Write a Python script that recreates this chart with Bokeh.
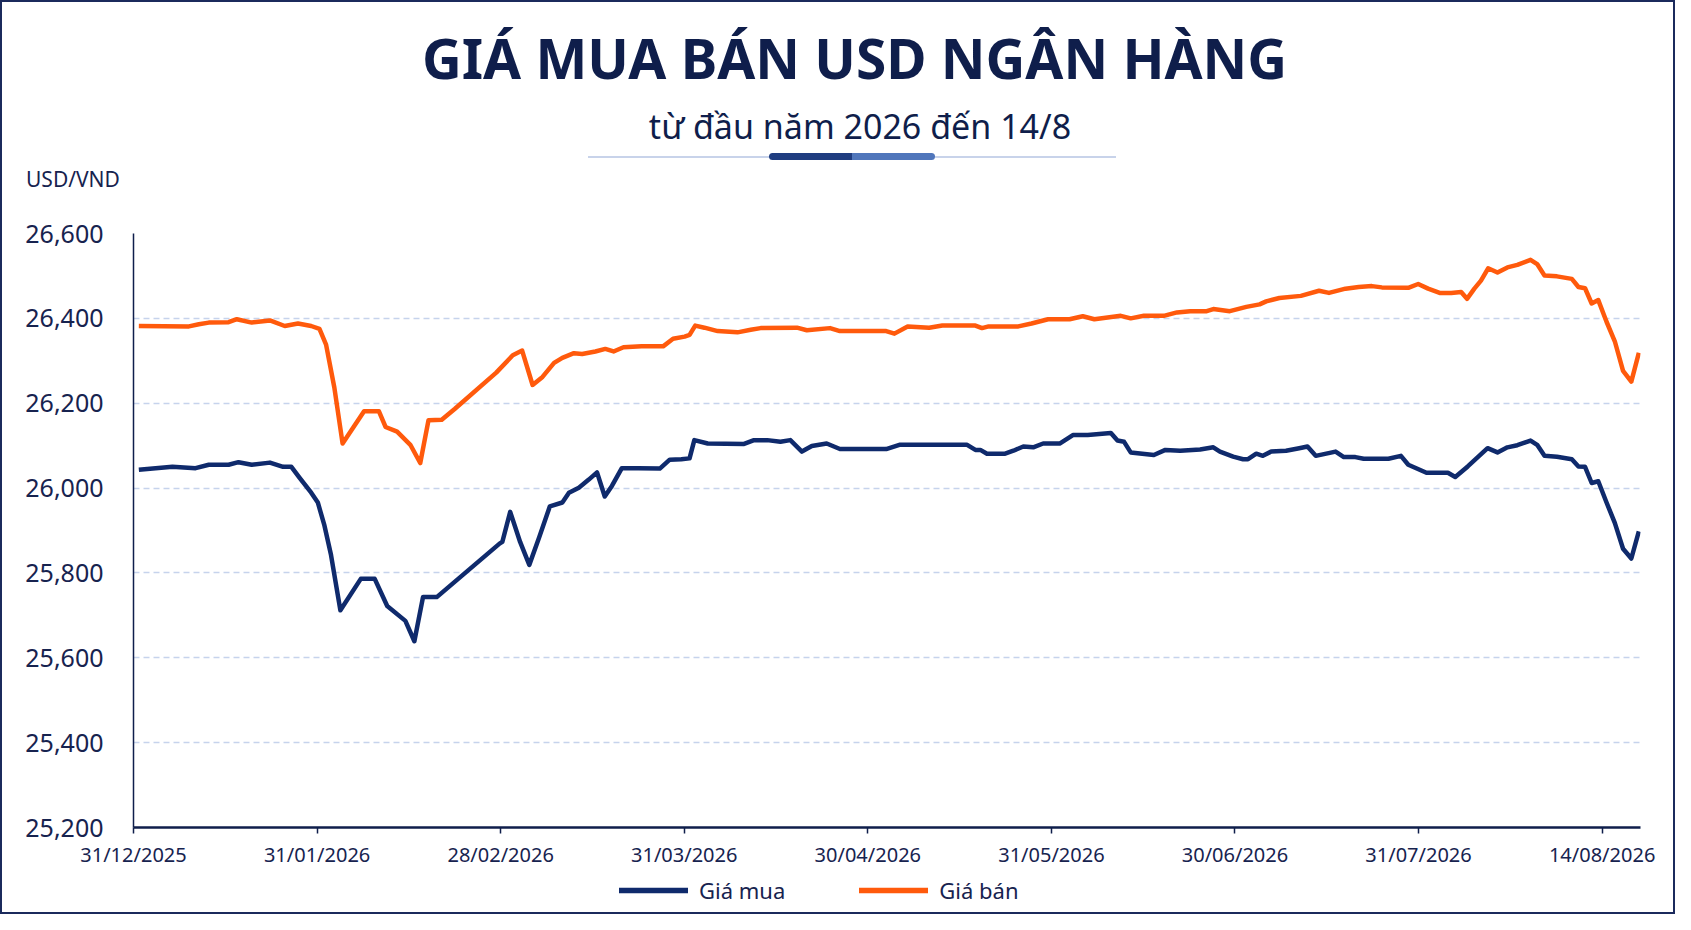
from bokeh.plotting import figure
from bokeh.layouts import column
from bokeh.models import (Range1d, FixedTicker, NumeralTickFormatter, Legend, LegendItem, Div)
from bokeh.embed import file_html
from bokeh.resources import INLINE

# ---------------- data ----------------
title_text = "GIÁ MUA BÁN USD NGÂN HÀNG"
subtitle_text = "từ đầu năm 2026 đến 14/8"
unit_text = "USD/VND"
series_names = ["Giá mua", "Giá bán"]

tick_positions = [0, 1, 2, 3, 4, 5, 6, 7, 8]
tick_labels = ["31/12/2025", "31/01/2026", "28/02/2026", "31/03/2026", "30/04/2026",
               "31/05/2026", "30/06/2026", "31/07/2026", "14/08/2026"]
y_ticks = [25200, 25400, 25600, 25800, 26000, 26200, 26400, 26600]

buy_pos = [0.029, 0.212, 0.338, 0.410, 0.518, 0.572, 0.644, 0.743, 0.815, 0.860,
           0.905, 0.968, 1.004, 1.040, 1.076, 1.127, 1.238, 1.314, 1.382, 1.481,
           1.530, 1.577, 1.652, 1.994, 2.009, 2.052, 2.106, 2.156, 2.210, 2.268,
           2.336, 2.372, 2.426, 2.480, 2.525, 2.567, 2.606, 2.660, 2.750, 2.867,
           2.921, 2.984, 3.029, 3.055, 3.128, 3.326, 3.380, 3.452, 3.524, 3.578,
           3.641, 3.695, 3.776, 3.848, 4.100, 4.172, 4.541, 4.586, 4.613, 4.649,
           4.748, 4.793, 4.847, 4.901, 4.955, 5.045, 5.117, 5.198, 5.324, 5.360,
           5.396, 5.432, 5.558, 5.621, 5.702, 5.810, 5.882, 5.918, 5.990, 6.044,
           6.071, 6.116, 6.152, 6.197, 6.278, 6.350, 6.395, 6.440, 6.548, 6.593,
           6.656, 6.701, 6.836, 6.904, 6.944, 7.043, 7.160, 7.200, 7.268, 7.376,
           7.430, 7.484, 7.538, 7.610, 7.646, 7.686, 7.754, 7.835, 7.871, 7.907,
           7.943, 7.979, 8.024, 8.069, 8.114, 8.159, 8.200]
buy_price = [26043, 26050, 26047, 26055, 26055, 26061, 26055, 26060, 26050, 26050,
             26024, 25989, 25966, 25912, 25842, 25712, 25786, 25786, 25722, 25687,
             25639, 25743, 25743, 25869, 25873, 25944, 25873, 25819, 25884, 25957,
             25966, 25989, 26001, 26020, 26037, 25980, 26005, 26047, 26047, 26046,
             26067, 26068, 26070, 26113, 26105, 26104, 26113, 26113, 26109, 26113,
             26086, 26099, 26105, 26092, 26092, 26102, 26102, 26090, 26090, 26081,
             26081, 26088, 26098, 26096, 26105, 26105, 26125, 26125, 26130, 26112,
             26109, 26084, 26078, 26090, 26088, 26091, 26096, 26086, 26074, 26068,
             26068, 26081, 26076, 26086, 26088, 26094, 26098, 26076, 26086, 26073,
             26073, 26069, 26069, 26076, 26055, 26036, 26036, 26026, 26051, 26094,
             26084, 26096, 26101, 26112, 26102, 26076, 26074, 26068, 26051, 26050,
             26012, 26016, 25966, 25918, 25857, 25834, 25898]

sell_pos = [0.029, 0.302, 0.356, 0.410, 0.518, 0.563, 0.644, 0.743, 0.824, 0.896,
            0.968, 1.013, 1.049, 1.094, 1.139, 1.256, 1.337, 1.373, 1.436, 1.508,
            1.562, 1.607, 1.679, 1.751, 1.976, 2.066, 2.117, 2.174, 2.228, 2.291,
            2.336, 2.399, 2.444, 2.516, 2.570, 2.615, 2.669, 2.768, 2.885, 2.939,
            3.002, 3.029, 3.060, 3.110, 3.182, 3.290, 3.362, 3.416, 3.614, 3.668,
            3.794, 3.848, 4.100, 4.145, 4.217, 4.334, 4.406, 4.586, 4.622, 4.658,
            4.730, 4.820, 4.892, 4.982, 5.099, 5.171, 5.234, 5.306, 5.378, 5.432,
            5.504, 5.612, 5.684, 5.756, 5.846, 5.882, 5.972, 6.062, 6.134, 6.170,
            6.242, 6.359, 6.458, 6.512, 6.602, 6.674, 6.746, 6.800, 6.944, 6.998,
            7.052, 7.115, 7.178, 7.232, 7.264, 7.304, 7.340, 7.379, 7.430, 7.484,
            7.538, 7.610, 7.646, 7.686, 7.754, 7.835, 7.871, 7.907, 7.943, 7.979,
            8.024, 8.069, 8.114, 8.159, 8.200]
sell_price = [26382, 26381, 26386, 26390, 26391, 26398, 26390, 26395, 26382, 26388,
              26382, 26375, 26338, 26237, 26105, 26181, 26181, 26144, 26133, 26102,
              26059, 26160, 26161, 26187, 26272, 26313, 26324, 26243, 26262, 26295,
              26307, 26318, 26316, 26322, 26328, 26322, 26332, 26334, 26334, 26352,
              26357, 26361, 26383, 26378, 26370, 26367, 26373, 26377, 26378, 26372,
              26377, 26370, 26370, 26364, 26381, 26378, 26383, 26383, 26377, 26381,
              26381, 26381, 26388, 26398, 26398, 26405, 26398, 26402, 26406, 26400,
              26406, 26406, 26414, 26417, 26417, 26422, 26417, 26427, 26433, 26440,
              26448, 26453, 26465, 26460, 26470, 26474, 26476, 26473, 26472, 26481,
              26470, 26460, 26460, 26462, 26446, 26470, 26489, 26518, 26508, 26520,
              26526, 26538, 26528, 26501, 26499, 26493, 26474, 26471, 26435, 26443,
              26392, 26346, 26276, 26251, 26319]

# ---------------- styles ----------------
NAVY = "#0f1e4b"
TEXT = "#17234f"
BLUE = "#0f2a6c"
ORANGE = "#ff5a0c"
GRID = "#c6d3ec"
FONT = "Noto Sans"

W = 1671
HEAD_H = 210
MAIN_H = 659
LEG_H = 41
LEFT_B = 131
RIGHT_B = 33

# ---------------- header (HTML block) ----------------
header_html = f"""
<div style="position:relative;width:{W}px;height:{HEAD_H}px;background:white;
            font-family:'{FONT}';color:{NAVY};">
  <div style="position:absolute;left:0;top:28px;width:1705px;text-align:center;
              font-size:55px;line-height:55px;font-weight:700;white-space:nowrap;">{title_text}</div>
  <div style="position:absolute;left:0;top:107px;width:1716px;text-align:center;
              font-size:34px;line-height:34px;white-space:nowrap;">{subtitle_text}</div>
  <div style="position:absolute;left:586px;top:154px;width:528px;height:2px;background:#c8d3ea;"></div>
  <div style="position:absolute;left:767px;top:151px;width:83px;height:7px;background:#1f3d80;
              border-radius:4px 0 0 4px;"></div>
  <div style="position:absolute;left:850px;top:151px;width:83px;height:7px;background:#5076bb;
              border-radius:0 4px 4px 0;"></div>
  <div style="position:absolute;left:24px;top:167px;font-size:21px;line-height:21px;
              color:{TEXT};white-space:nowrap;">{unit_text}</div>
</div>
"""
head = Div(text=header_html, width=W, height=HEAD_H, margin=0)

# ---------------- main chart ----------------
p = figure(width=W, height=MAIN_H, output_backend="svg", toolbar_location=None,
           x_range=Range1d(0, 8.209), y_range=Range1d(25200, 26600),
           min_border_left=LEFT_B, min_border_right=RIGHT_B, min_border_top=21,
           min_border_bottom=44)
p.outline_line_color = None
p.background_fill_color = "white"
p.border_fill_color = "white"
p.xgrid.visible = False
p.ygrid.grid_line_color = GRID
p.ygrid.grid_line_width = 1.5
p.ygrid.grid_line_dash = "6 4"

p.xaxis.ticker = FixedTicker(ticks=tick_positions)
p.xaxis.major_label_overrides = {t: lab for t, lab in zip(tick_positions, tick_labels)}
p.xaxis.axis_line_color = NAVY
p.xaxis.axis_line_width = 2.5
p.xaxis.major_tick_line_color = NAVY
p.xaxis.major_tick_line_width = 1.5
p.xaxis.major_tick_out = 6
p.xaxis.major_tick_in = 0
p.xaxis.minor_tick_line_color = None
p.xaxis.major_label_text_font = FONT
p.xaxis.major_label_text_font_size = "20px"
p.xaxis.major_label_text_color = TEXT
p.xaxis.major_label_standoff = 7

p.yaxis.ticker = FixedTicker(ticks=y_ticks)
p.yaxis.formatter = NumeralTickFormatter(format="0,0")
p.yaxis.axis_line_color = NAVY
p.yaxis.axis_line_width = 1.5
p.yaxis.major_tick_line_color = None
p.yaxis.major_tick_out = 0
p.yaxis.major_tick_in = 0
p.yaxis.minor_tick_line_color = None
p.yaxis.major_label_text_font = FONT
p.yaxis.major_label_text_font_size = "25px"
p.yaxis.major_label_text_color = TEXT
p.yaxis.major_label_standoff = 30

p.line(buy_pos, buy_price, line_color=BLUE, line_width=4.5, line_join="round")
p.line(sell_pos, sell_price, line_color=ORANGE, line_width=4.5, line_join="round")

# ---------------- legend strip ----------------
lf = figure(width=W, height=LEG_H, output_backend="svg", toolbar_location=None,
            x_range=Range1d(0, 1), y_range=Range1d(0, 1),
            x_axis_type=None, y_axis_type=None,
            min_border_left=LEFT_B, min_border_right=RIGHT_B,
            min_border_top=0, min_border_bottom=0)
lf.grid.visible = False
lf.outline_line_color = None
lf.background_fill_color = "white"
lf.border_fill_color = "white"
nan = float("nan")
k_buy = lf.line(x=[nan], y=[nan], line_color=BLUE, line_width=5.5, line_cap="round")
k_sell = lf.line(x=[nan], y=[nan], line_color=ORANGE, line_width=5.5, line_cap="round")

legend = Legend(items=[LegendItem(label=series_names[0], renderers=[k_buy]),
                       LegendItem(label=series_names[1], renderers=[k_sell])],
                orientation="horizontal", location=(486, 7),
                glyph_width=69, glyph_height=24, label_height=24,
                label_standoff=11, spacing=74,
                padding=0, margin=0, border_line_color=None,
                background_fill_alpha=0,
                label_text_font=FONT, label_text_font_size="22px",
                label_text_color=TEXT)
lf.add_layout(legend, "center")

page = column(head, p, lf)
page.styles = {"border": "2px solid #1b2a5c"}

open("out.html", "w").write(file_html(page, INLINE))
